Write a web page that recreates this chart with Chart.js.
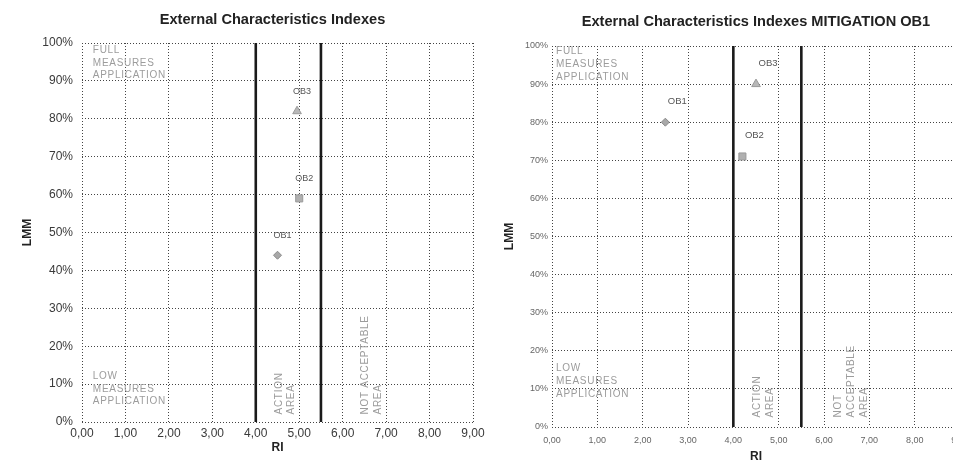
<!DOCTYPE html>
<html>
<head>
<meta charset="utf-8">
<script src="https://cdn.jsdelivr.net/npm/chart.js@4"></script>
<style>
  html, body { margin: 0; padding: 0; background: #fff; width: 953px; height: 461px; overflow: hidden; }
  .box { position: absolute; top: 0; height: 461px; }
  #box1 { left: 0; width: 544px; }
  #box2 { left: 470px; width: 572px; }
</style>
</head>
<body>
<div class="box" id="box1"><canvas id="chart1"></canvas></div>
<div class="box" id="box2"><canvas id="chart2"></canvas></div>
<script>
// data
const objectNames = ['OB1', 'OB2', 'OB3'];
const pointShapes = ['rectRot', 'rect', 'triangle'];
const riBefore = [4.5, 5.0, 4.95];
const lmmBefore = [0.44, 0.59, 0.82];
const riMitigation = [2.5, 4.2, 4.5];
const lmmMitigation = [0.80, 0.71, 0.90];
const limitRI = [4.0, 5.5];
const xRange = [0, 9];
const yRange = [0, 1];

const fmtRI = (v) => v.toFixed(2).replace('.', ',');
const fmtPct = (v) => Math.round(v * 100) + '%';

// chart title, centred on the plot area
const plotTitle = {
  id: 'plotTitle',
  afterDraw(chart, args, opts) {
    const ctx = chart.ctx;
    const a = chart.chartArea;
    ctx.save();
    ctx.font = opts.font;
    ctx.fillStyle = opts.color;
    ctx.textAlign = 'center';
    ctx.textBaseline = 'middle';
    ctx.fillText(opts.text, (a.left + a.right) / 2 + opts.dx, opts.y);
    ctx.restore();
  }
};

// OB labels next to points
const pointLabels = {
  id: 'pointLabels',
  afterDatasetsDraw(chart, args, opts) {
    const ctx = chart.ctx;
    const meta = chart.getDatasetMeta(0);
    ctx.save();
    ctx.font = opts.font;
    ctx.fillStyle = opts.color;
    ctx.textAlign = 'center';
    ctx.textBaseline = 'middle';
    meta.data.forEach((pt, i) => {
      ctx.fillText(objectNames[i], pt.x + opts.dx, pt.y + opts.dy);
    });
    ctx.restore();
  }
};

// grey area captions
const zoneText = {
  id: 'zoneText',
  afterDatasetsDraw(chart, args, opts) {
    const ctx = chart.ctx;
    const xs = chart.scales.x, ys = chart.scales.y;
    ctx.save();
    ctx.font = opts.font;
    ctx.fillStyle = opts.color;
    ctx.letterSpacing = opts.spacing;
    ctx.textBaseline = 'middle';
    ctx.textAlign = 'left';
    opts.zones.forEach((z) => {
      const px = xs.getPixelForValue(z.x);
      const py = ys.getPixelForValue(z.y);
      ctx.save();
      ctx.translate(px, py);
      if (z.vertical) ctx.rotate(-Math.PI / 2);
      z.lines.forEach((t, i) => ctx.fillText(t, 0, i * opts.lineHeight));
      ctx.restore();
    });
    ctx.restore();
  }
};

function makeChart(id, title, ri, lmm, look) {
  const points = ri.map((x, i) => ({ x: x, y: lmm[i] }));
  const limits = limitRI.map((v) => ({
    type: 'line',
    data: [{ x: v, y: yRange[0] }, { x: v, y: yRange[1] }],
    borderColor: '#1a1a1a',
    borderWidth: 2.6,
    pointRadius: 0,
    fill: false
  }));
  return new Chart(document.getElementById(id), {
    type: 'scatter',
    data: {
      datasets: [
        {
          data: points,
          pointStyle: pointShapes,
          pointRadius: [4, 5, 5],
          backgroundColor: ['#a8a8a8', '#b0b0b0', '#b8b8b8'],
          borderColor: ['#8a8a8a', '#9a9a9a', '#9a9a9a'],
          borderWidth: 1
        },
        ...limits
      ]
    },
    options: {
      responsive: true,
      maintainAspectRatio: false,
      animation: false,
      layout: { padding: { left: 0, right: look.padRight, top: look.padTop, bottom: 0 } },
      plugins: {
        legend: { display: false },
        tooltip: { enabled: false },
        title: { display: false },
        plotTitle: {
          text: title,
          font: 'bold 14.6px "Liberation Sans"',
          color: '#222',
          y: look.titleY,
          dx: look.titleDx
        },
        pointLabels: { font: look.labelFont, color: '#555', dx: look.labelDx, dy: look.labelDy },
        zoneText: {
          font: '10px "Liberation Sans"', color: '#9c9c9c', spacing: '0.7px',
          lineHeight: look.zoneLine, zones: look.zones
        }
      },
      scales: {
        x: {
          type: 'linear',
          min: xRange[0],
          max: xRange[1],
          afterFit: (s) => { s.height = look.xHeight; },
          ticks: {
            stepSize: 1,
            callback: (v) => fmtRI(v),
            color: look.tickColor,
            font: { family: 'Liberation Sans', size: look.tickSize },
            padding: look.xTickPad,
            maxRotation: 0
          },
          grid: { color: '#444', lineWidth: 1, drawTicks: false },
          border: { display: false, dash: [1, 2] },
          title: {
            display: true,
            text: 'RI',
            color: '#222',
            font: { family: 'Liberation Sans', size: 12, weight: 'bold', lineHeight: 1 },
            padding: { top: 0, bottom: look.riPad }
          }
        },
        y: {
          type: 'linear',
          min: yRange[0],
          max: yRange[1],
          afterFit: (s) => { s.width = 82; },
          ticks: {
            stepSize: 0.1,
            callback: (v) => fmtPct(v),
            color: look.tickColor,
            font: { family: 'Liberation Sans', size: look.tickSize },
            padding: look.yTickPad
          },
          grid: { color: '#444', lineWidth: 1, drawTicks: false },
          border: { display: false, dash: [1, 2] },
          title: {
            display: true,
            text: 'LMM',
            color: '#222',
            font: { family: 'Liberation Sans', size: 12, weight: 'bold', lineHeight: 1.2 },
            padding: { top: look.lmmPad, bottom: 0 }
          }
        }
      }
    },
    plugins: [plotTitle, pointLabels, zoneText]
  });
}

makeChart('chart1', 'External Characteristics Indexes', riBefore, lmmBefore, {
  padRight: 71, padTop: 43, titleY: 20, titleDx: -5, xHeight: 39, riPad: 7, lmmPad: 20,
  tickSize: 12, tickColor: '#3a3a3a', xTickPad: 4, yTickPad: 9,
  labelFont: '9px "Liberation Sans"', labelDx: 5, labelDy: -20,
  zoneLine: 12.5,
  zones: [
    { lines: ['FULL', 'MEASURES', 'APPLICATION'], x: 0.25, y: 0.98 },
    { lines: ['LOW', 'MEASURES', 'APPLICATION'], x: 0.25, y: 0.12 },
    { lines: ['ACTION', 'AREA'], x: 4.54, y: 0.02, vertical: true },
    { lines: ['NOT ACCEPTABLE', 'AREA'], x: 6.52, y: 0.02, vertical: true }
  ]
});

makeChart('chart2', 'External Characteristics Indexes MITIGATION OB1', riMitigation, lmmMitigation, {
  padRight: 82, padTop: 46, titleY: 22, titleDx: 0, xHeight: 34, riPad: -2, lmmPad: 32,
  tickSize: 9, tickColor: '#666', xTickPad: 8, yTickPad: 4,
  labelFont: '9.5px "Liberation Sans"', labelDx: 12, labelDy: -21,
  zoneLine: 13,
  zones: [
    { lines: ['FULL', 'MEASURES', 'APPLICATION'], x: 0.09, y: 0.985 },
    { lines: ['LOW', 'MEASURES', 'APPLICATION'], x: 0.09, y: 0.155 },
    { lines: ['ACTION', 'AREA'], x: 4.53, y: 0.025, vertical: true },
    { lines: ['NOT', 'ACCEPTABLE', 'AREA'], x: 6.31, y: 0.025, vertical: true }
  ]
});
</script>
</body>
</html>
